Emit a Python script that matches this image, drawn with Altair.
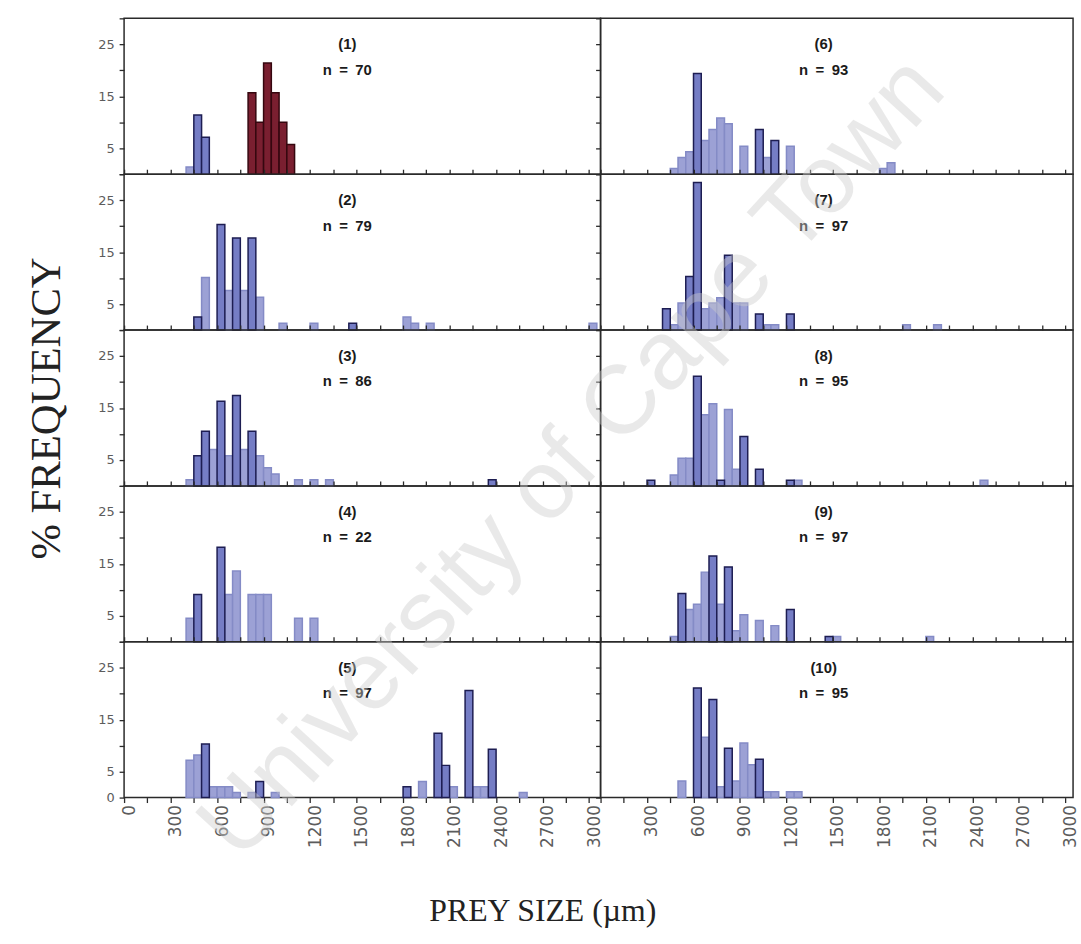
import altair as alt
import pandas as pd

CLASS_WIDTH = 50  # width of each prey size class, µm

PANEL_IDS = ["(1)", "(2)", "(3)", "(4)", "(5)", "(6)", "(7)", "(8)", "(9)", "(10)"]
SAMPLE_N = [70, 79, 86, 22, 97, 93, 97, 95, 97, 95]

# Lower bound of each size class (µm), % frequency, and the series each bar belongs to
S1_SIZE = [400, 450, 500, 800, 850, 900, 950, 1000, 1050]
S1_PCT = [1.4, 11.4, 7.1, 15.7, 10.0, 21.4, 15.7, 10.0, 5.7]
S1_SERIES = ["B", "A", "A", "C", "C", "C", "C", "C", "C"]

S2_SIZE = [450, 500, 600, 650, 700, 750, 800, 850, 1000, 1200, 1450, 1800, 1850, 1950, 3000]
S2_PCT = [2.5, 10.1, 20.3, 7.6, 17.7, 7.6, 17.7, 6.3, 1.3, 1.3, 1.3, 2.5, 1.3, 1.3, 1.3]
S2_SERIES = ["A", "B", "A", "B", "A", "B", "A", "B", "B", "B", "A", "B", "B", "B", "B"]

S3_SIZE = [400, 450, 500, 550, 600, 650, 700, 750, 800, 850, 900, 950, 1100, 1200, 1300, 2350]
S3_PCT = [1.2, 5.8, 10.5, 7.0, 16.3, 5.8, 17.4, 7.0, 10.5, 5.8, 3.5, 2.3, 1.2, 1.2, 1.2, 1.2]
S3_SERIES = ["B", "A", "A", "B", "A", "B", "A", "B", "A", "B", "B", "B", "B", "B", "B", "A"]

S4_SIZE = [400, 450, 600, 650, 700, 800, 850, 900, 1100, 1200]
S4_PCT = [4.5, 9.1, 18.2, 9.1, 13.6, 9.1, 9.1, 9.1, 4.5, 4.5]
S4_SERIES = ["B", "A", "A", "B", "B", "B", "B", "B", "B", "B"]

S5_SIZE = [400, 450, 500, 550, 600, 650, 700, 800, 850, 950,
           1800, 1900, 2000, 2050, 2100, 2200, 2250, 2300, 2350, 2550]
S5_PCT = [7.2, 8.2, 10.3, 2.1, 2.1, 2.1, 1.0, 1.0, 3.1, 1.0,
          2.1, 3.1, 12.4, 6.2, 2.1, 20.6, 2.1, 2.1, 9.3, 1.0]
S5_SERIES = ["B", "B", "A", "B", "B", "B", "B", "B", "A", "B",
             "A", "B", "A", "A", "B", "A", "B", "B", "A", "B"]

S6_SIZE = [450, 500, 550, 600, 650, 700, 750, 800, 900, 1000, 1050, 1100, 1200, 1800, 1850]
S6_PCT = [1.1, 3.2, 4.3, 19.4, 6.5, 8.6, 10.8, 9.7, 5.4, 8.6, 3.2, 6.5, 5.4, 1.1, 2.2]
S6_SERIES = ["B", "B", "B", "A", "B", "B", "B", "B", "B", "A", "B", "A", "B", "B", "B"]

S7_SIZE = [400, 450, 500, 550, 600, 650, 700, 750, 800, 850, 900, 1000, 1050, 1100, 1200, 1950, 2150]
S7_PCT = [4.1, 1.0, 5.2, 10.3, 28.4, 4.1, 5.2, 6.2, 14.4, 5.2, 5.2, 3.1, 1.0, 1.0, 3.1, 1.0, 1.0]
S7_SERIES = ["A", "B", "B", "A", "A", "B", "B", "B", "A", "B", "B", "A", "B", "B", "A", "B", "B"]

S8_SIZE = [300, 450, 500, 550, 600, 650, 700, 750, 800, 850, 900, 1000, 1200, 1250, 2450]
S8_PCT = [1.1, 2.1, 5.3, 5.3, 21.1, 13.7, 15.8, 1.1, 14.7, 3.2, 9.5, 3.2, 1.1, 1.1, 1.1]
S8_SERIES = ["A", "B", "B", "B", "A", "B", "B", "A", "B", "B", "A", "A", "A", "B", "B"]

S9_SIZE = [450, 500, 550, 600, 650, 700, 750, 800, 850, 900, 1000, 1100, 1200, 1450, 1500, 2100]
S9_PCT = [1.0, 9.3, 6.2, 7.2, 13.4, 16.5, 7.2, 14.4, 2.1, 5.2, 4.1, 3.1, 6.2, 1.0, 1.0, 1.0]
S9_SERIES = ["B", "A", "B", "B", "B", "A", "B", "A", "B", "B", "B", "B", "A", "A", "B", "B"]

S10_SIZE = [500, 600, 650, 700, 750, 800, 850, 900, 950, 1000, 1050, 1100, 1200, 1250]
S10_PCT = [3.2, 21.1, 11.6, 18.9, 2.1, 9.5, 3.2, 10.5, 6.3, 7.4, 1.1, 1.1, 1.1, 1.1]
S10_SERIES = ["B", "A", "B", "A", "B", "A", "B", "B", "B", "A", "B", "B", "B", "B"]

SIZES = [S1_SIZE, S2_SIZE, S3_SIZE, S4_SIZE, S5_SIZE, S6_SIZE, S7_SIZE, S8_SIZE, S9_SIZE, S10_SIZE]
PCTS = [S1_PCT, S2_PCT, S3_PCT, S4_PCT, S5_PCT, S6_PCT, S7_PCT, S8_PCT, S9_PCT, S10_PCT]
SERIES = [S1_SERIES, S2_SERIES, S3_SERIES, S4_SERIES, S5_SERIES,
          S6_SERIES, S7_SERIES, S8_SERIES, S9_SERIES, S10_SERIES]

# Panel geometry and styling
X_MAX = [3074, 3050]
Y_MAX = 30
PANEL_W = [480, 476]
PANEL_H = 157
X_TICKS = list(range(0, 3001, 150))
Y_TICKS = list(range(0, 31, 5))
LABEL_X = 1440
LABEL_Y = [25.0, 20.1]
GAP = "\u2002"  # wider space around the equals sign

SERIES_ORDER = ["B", "A", "C"]
FILL_RANGE = ["#9ca1d5", "#757dc5", "#7a1f30"]
STROKE_RANGE = ["#848bc6", "#1d1d52", "#35070f"]

INK = "#2a2a2a"
TICK_LABEL = "#5c5c5c"


def panel(k):
    col = k // 5
    row = k % 5
    df = pd.DataFrame({"lo": SIZES[k], "pct": PCTS[k], "series": SERIES[k]})
    df["hi"] = df["lo"] + CLASS_WIDTH
    df["rank"] = df["series"].map({s: i for i, s in enumerate(SERIES_ORDER)})
    df = df.sort_values(["rank", "lo"]).reset_index(drop=True)

    xscale = alt.Scale(domain=[0, X_MAX[col]], nice=False, zero=False)
    yscale = alt.Scale(domain=[0, Y_MAX], nice=False)

    if row == 4:
        keep = "datum.value % 300 === 0" + (" && datum.value > 0" if col == 1 else "")
        x_axis = alt.Axis(
            orient="bottom", values=X_TICKS, labelExpr=f"{keep} ? '' + datum.value : ''",
            labelAngle=270, labelFontSize=17, labelPadding=2, labelOffset=5, tickSize=5,
            labelOverlap=False, labelFlush=False, domain=False, title=None,
        )
    else:
        x_axis = None

    if col == 0:
        shown = "[0, 5, 15, 25]" if row == 4 else "[5, 15, 25]"
        y_axis = alt.Axis(
            orient="left", values=Y_TICKS,
            labelExpr=f"indexof({shown}, datum.value) >= 0 ? '' + datum.value : ''",
            labelFontSize=13, labelPadding=5, tickSize=5, labelOverlap=False,
            labelFlush=False, domain=False,
            title="% FREQUENCY" if row == 2 else None,
            titleFont="Liberation Serif", titleFontSize=43, titleFontWeight="normal",
            titleColor="#222222", titlePadding=30,
        )
    else:
        y_axis = alt.Axis(orient="left", values=Y_TICKS, labels=False, tickSize=5,
                          domain=False, title=None)

    bars = alt.Chart(df).mark_rect(strokeWidth=1.5).encode(
        x=alt.X("lo:Q", scale=xscale, axis=x_axis),
        x2="hi:Q",
        y=alt.Y("pct:Q", scale=yscale, axis=y_axis),
        y2=alt.datum(0),
        fill=alt.Fill("series:N", scale=alt.Scale(domain=SERIES_ORDER, range=FILL_RANGE), legend=None),
        stroke=alt.Stroke("series:N", scale=alt.Scale(domain=SERIES_ORDER, range=STROKE_RANGE), legend=None),
        order=alt.Order("rank:Q"),
    )

    top_axis = None
    if row > 0:
        top_axis = alt.Axis(orient="top", values=X_TICKS, labels=False, tickSize=5,
                            domain=False, title=None)
    lab = pd.DataFrame({
        "label": [PANEL_IDS[k], f"n{GAP}={GAP}{SAMPLE_N[k]}"],
        "xpos": [LABEL_X, LABEL_X],
        "ypos": LABEL_Y,
    })
    labels = alt.Chart(lab).mark_text(
        font="Liberation Sans", fontWeight="bold", fontSize=15, color="#1b1b1b",
        align="center", baseline="middle",
    ).encode(
        x=alt.X("xpos:Q", scale=xscale, axis=top_axis),
        y=alt.Y("ypos:Q", scale=yscale, axis=None),
        text="label:N",
    )

    layers = [bars, labels]
    if k == 9:
        mark = alt.Chart(pd.DataFrame({"w": ["University of Cape Town"]})).mark_text(
            font="Liberation Sans", fontSize=98, angle=312.6, color="#cdcdcd",
            opacity=0.42, align="center", baseline="middle",
        ).encode(text="w:N", x=alt.value(-28), y=alt.value(-185))
        layers.append(mark)

    return (
        alt.layer(*layers)
        .resolve_axis(x="independent", y="independent")
        .properties(width=PANEL_W[col], height=PANEL_H)
    )


order = []
for r in range(5):
    order += [r, r + 5]

chart = (
    alt.concat(*[panel(k) for k in order], columns=2, spacing=0, bounds="flush")
    .properties(
        title=alt.TitleParams(
            "PREY SIZE (µm)", orient="bottom", anchor="middle",
            font="Liberation Serif", fontSize=32, fontWeight="normal",
            color="#222222", dx=-9, offset=19,
        ),
        padding={"left": 24, "right": 2, "top": 8, "bottom": 10},
        background="white",
    )
    .configure_view(stroke=INK, strokeWidth=1.5)
    .configure_axis(
        grid=False, tickColor=INK, tickWidth=1.3, labelFont="DejaVu Sans",
        labelColor=TICK_LABEL,
    )
)

chart.save("out.html", embed_options={"renderer": "svg", "actions": False})
